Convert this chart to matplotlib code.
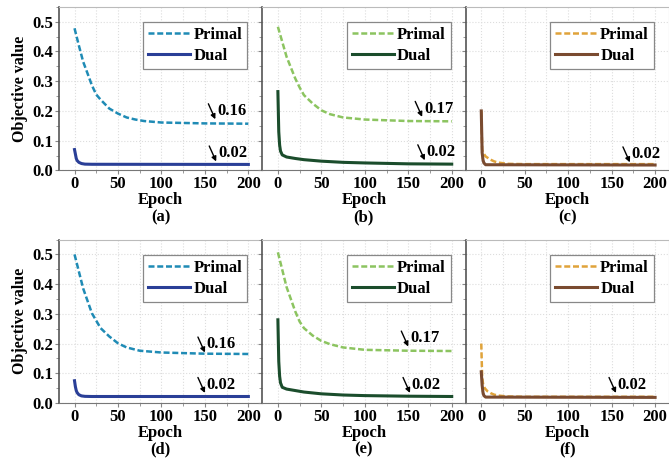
import matplotlib.pyplot as plt
from matplotlib.ticker import MultipleLocator

plt.rcParams['font.family'] = ['Liberation Serif', 'DejaVu Serif']
plt.rcParams['font.weight'] = 'bold'
plt.rcParams['axes.labelweight'] = 'bold'
plt.rcParams['font.size'] = 12

# primal curves (epoch, value)
ep_a_p = [0, 5, 10, 15, 20, 25, 30, 40, 50, 60, 70, 80, 100, 150, 200]
val_a_p = [0.478, 0.42, 0.365, 0.326, 0.286, 0.255, 0.238, 0.208, 0.191, 0.178, 0.171, 0.166, 0.161, 0.158, 0.157]
ep_b_p = [0, 10, 20, 25, 30, 40, 50, 60, 75, 100, 150, 200]
val_b_p = [0.483, 0.382, 0.309, 0.279, 0.253, 0.225, 0.202, 0.189, 0.178, 0.171, 0.166, 0.165]
ep_c_p = [0, 1, 2, 5, 10, 15, 20, 30, 50, 200]
val_c_p = [0.2, 0.07, 0.06, 0.047, 0.037, 0.03, 0.026, 0.022, 0.021, 0.021]
ep_d_p = [0, 10, 20, 30, 40, 50, 60, 75, 100, 150, 200]
val_d_p = [0.5, 0.385, 0.302, 0.252, 0.224, 0.201, 0.187, 0.176, 0.17, 0.166, 0.165]
ep_e_p = [0, 10, 20, 25, 30, 40, 50, 60, 75, 100, 150, 200]
val_e_p = [0.507, 0.39, 0.308, 0.274, 0.252, 0.227, 0.209, 0.198, 0.187, 0.179, 0.176, 0.175]
ep_f_p = [0, 1, 2, 4, 7, 11, 15, 20, 30, 50, 200]
val_f_p = [0.2, 0.09, 0.065, 0.05, 0.04, 0.033, 0.028, 0.025, 0.022, 0.021, 0.021]

# dual curves
ep_a_d = [0, 1, 2, 3, 5, 8, 12, 20, 200]
val_a_d = [0.07, 0.055, 0.04, 0.033, 0.027, 0.023, 0.021, 0.0205, 0.02]
ep_b_d = [0, 1, 2, 3, 5, 10, 20, 30, 50, 75, 100, 150, 200]
val_b_d = [0.265, 0.13, 0.085, 0.065, 0.052, 0.045, 0.04, 0.036, 0.031, 0.027, 0.025, 0.022, 0.021]
ep_c_d = [0, 1, 2, 3, 5, 200]
val_c_d = [0.2, 0.06, 0.035, 0.025, 0.019, 0.018]
ep_d_d = [0, 1, 2, 3, 5, 8, 12, 20, 200]
val_d_d = [0.075, 0.055, 0.042, 0.035, 0.028, 0.024, 0.0225, 0.022, 0.022]
ep_e_d = [0, 1, 2, 3, 5, 10, 20, 30, 50, 75, 100, 150, 200]
val_e_d = [0.28, 0.14, 0.09, 0.068, 0.053, 0.047, 0.042, 0.037, 0.031, 0.027, 0.025, 0.023, 0.022]
ep_f_d = [0, 1, 2, 3, 5, 200]
val_f_d = [0.105, 0.06, 0.035, 0.025, 0.02, 0.019]

primal = [(ep_a_p, val_a_p), (ep_b_p, val_b_p), (ep_c_p, val_c_p),
          (ep_d_p, val_d_p), (ep_e_p, val_e_p), (ep_f_p, val_f_p)]
dual = [(ep_a_d, val_a_d), (ep_b_d, val_b_d), (ep_c_d, val_c_d),
        (ep_d_d, val_d_d), (ep_e_d, val_e_d), (ep_f_d, val_f_d)]

primal_colors = ['#1f8bb5', '#8cc460', '#e0a33a']
dual_colors = ['#2a3f97', '#1b4d2c', '#7a4b30']

# arrow tips (epoch, value, label)
notes = [
    [(162, 0.172, '0.16'), (163, 0.03, '0.02')],
    [(166, 0.18, '0.17'), (169, 0.034, '0.02')],
    [(171, 0.027, '0.02')],
    [(150, 0.17, '0.16'), (150, 0.034, '0.02')],
    [(150, 0.19, '0.17'), (152, 0.034, '0.02')],
    [(155, 0.034, '0.02')],
]
letters = ['(a)', '(b)', '(c)', '(d)', '(e)', '(f)']

fig, axes = plt.subplots(2, 3, figsize=(6.69, 4.58), dpi=100, sharey=True)
fig.subplots_adjust(left=0.088, right=1.0, top=0.985, bottom=0.12, wspace=0, hspace=0.423)

for i, ax in enumerate(axes.flat):
    col = i % 3
    ep, val = primal[i]
    ax.plot(ep, val, color=primal_colors[col], lw=1.8, linestyle=(0, (2.4, 1.1)), label='Primal')
    ep, val = dual[i]
    ax.plot(ep, val, color=dual_colors[col], lw=2.2, label='Dual')

    ax.set_xlim(-18, 216)
    ax.set_ylim(0, 0.55)
    ax.xaxis.set_major_locator(MultipleLocator(50))
    ax.xaxis.set_minor_locator(MultipleLocator(25))
    ax.yaxis.set_major_locator(MultipleLocator(0.1))
    ax.yaxis.set_minor_locator(MultipleLocator(0.05))
    ax.grid(True, which='both', axis='x', color='#dddddd', ls=':', lw=0.8)
    ax.grid(True, which='major', axis='y', color='#dddddd', ls=':', lw=0.8)
    ax.set_axisbelow(True)
    ax.tick_params(which='both', direction='out', length=3, color='#888888', pad=1)
    ax.tick_params(which='minor', length=2)

    ax.spines['left'].set_color('#555555')
    ax.spines['left'].set_linewidth(1.2)
    ax.spines['bottom'].set_color('#777777')
    ax.spines['top'].set_color('#bbbbbb')
    ax.spines['right'].set_color('#bbbbbb')

    ax.set_xlabel('Epoch\n' + letters[i], linespacing=1.1, labelpad=0)
    if col == 0:
        ax.set_ylabel('Objective value', fontsize=11.5, labelpad=3)
        ax.yaxis.set_major_formatter(plt.FormatStrFormatter('%.1f'))

    leg = ax.legend(loc='upper right', handlelength=2.5, handletextpad=0.2,
                    borderpad=0.3, labelspacing=0.3, borderaxespad=0.9,
                    fancybox=False, framealpha=1, edgecolor='#888888')
    leg.get_frame().set_linewidth(0.9)

    for x, y, txt in notes[i]:
        ax.annotate('', xy=(x, y), xytext=(x - 8, y + 0.052),
                    arrowprops=dict(arrowstyle='-|>', color='black', lw=1,
                                    mutation_scale=7, shrinkA=0, shrinkB=0))
        ax.text(x + 2, y + 0.028, txt, ha='left', va='center')

fig.savefig('out.png', dpi=100)
